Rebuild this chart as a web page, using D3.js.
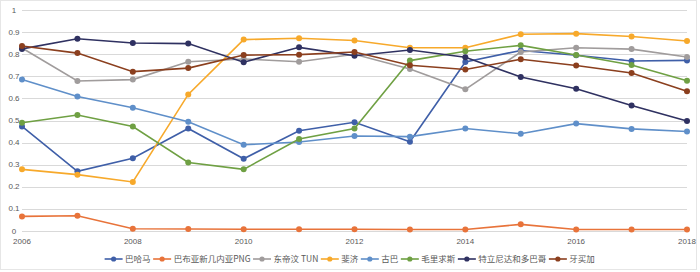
<!DOCTYPE html>
<html>
<head>
<meta charset="utf-8">
<script src="https://cdn.jsdelivr.net/npm/d3@7"></script>
<style>
  body { margin: 0; background: #fff; }
  text { font-family: "Noto Sans CJK SC", "Noto Sans", sans-serif; fill: #595959; }
  .tick-label { font-family: "Liberation Sans", "DejaVu Sans", sans-serif; }
</style>
</head>
<body>
<svg id="chart"></svg>
<script>
// data
const years = [2006, 2007, 2008, 2009, 2010, 2011, 2012, 2013, 2014, 2015, 2016, 2017, 2018];
const seriesNames = ['巴哈马', '巴布亚新几内亚PNG', '东帝汶 TUN', '斐济', '古巴', '毛里求斯', '特立尼达和多巴哥', '牙买加'];
const bahamas  = [0.473, 0.270, 0.329, 0.464, 0.327, 0.454, 0.492, 0.404, 0.765, 0.817, 0.795, 0.769, 0.772];
const png      = [0.066, 0.069, 0.010, 0.009, 0.008, 0.008, 0.008, 0.007, 0.007, 0.030, 0.007, 0.007, 0.007];
const timor    = [0.828, 0.679, 0.685, 0.766, 0.778, 0.766, 0.800, 0.733, 0.641, 0.810, 0.829, 0.823, 0.787];
const fiji     = [0.279, 0.255, 0.222, 0.618, 0.866, 0.872, 0.862, 0.829, 0.829, 0.890, 0.893, 0.880, 0.860];
const cuba     = [0.686, 0.609, 0.558, 0.494, 0.390, 0.403, 0.430, 0.427, 0.464, 0.440, 0.486, 0.462, 0.450];
const mauritius= [0.490, 0.525, 0.473, 0.310, 0.279, 0.416, 0.464, 0.771, 0.813, 0.840, 0.796, 0.751, 0.680];
const trinidad = [0.824, 0.870, 0.851, 0.848, 0.764, 0.831, 0.793, 0.819, 0.786, 0.697, 0.644, 0.568, 0.498];
const jamaica  = [0.837, 0.805, 0.721, 0.737, 0.796, 0.798, 0.810, 0.750, 0.731, 0.777, 0.749, 0.715, 0.632];
const xTicks = [2006, 2008, 2010, 2012, 2014, 2016, 2018];
const yTicks = [0, 0.1, 0.2, 0.3, 0.4, 0.5, 0.6, 0.7, 0.8, 0.9, 1];

const allValues = [bahamas, png, timor, fiji, cuba, mauritius, trinidad, jamaica];
const colors = ['#3F5FA8', '#E8733A', '#A09C9C', '#F7A92B', '#5F8FC9', '#6FA043', '#2F3161', '#8B3F1E'];
const series = seriesNames.map((name, i) => ({ name, color: colors[i], values: allValues[i] }));

const width = 700, height = 272;
const margin = {top: 10, right: 13, bottom: 41, left: 22};

const svg = d3.select('#chart')
    .attr('width', width)
    .attr('height', height);

svg.append('rect')
    .attr('x', 0.5).attr('y', 0.5)
    .attr('width', width - 4).attr('height', height - 3)
    .attr('fill', '#fff')
    .attr('stroke', '#e6e6e6');

const xScale = d3.scaleLinear()
    .domain([2006, 2018])
    .range([margin.left, width - margin.right]);

const yScale = d3.scaleLinear()
    .domain([0, 1])
    .range([height - margin.bottom, margin.top]);

// gridlines
svg.append('g')
    .selectAll('line')
    .data(yTicks)
  .join('line')
    .attr('x1', xScale(2006))
    .attr('x2', xScale(2018))
    .attr('y1', d => Math.round(yScale(d)) + 0.5)
    .attr('y2', d => Math.round(yScale(d)) + 0.5)
    .attr('stroke', '#d9d9d9')
    .attr('stroke-width', 1);

// y tick labels
svg.append('g')
    .selectAll('text')
    .data(yTicks)
  .join('text')
    .attr('class', 'tick-label')
    .attr('x', 14)
    .attr('y', d => yScale(d) + 2.5)
    .attr('text-anchor', 'middle')
    .attr('font-size', 8)
    .text(d => d);

// x tick labels
svg.append('g')
    .selectAll('text')
    .data(xTicks)
  .join('text')
    .attr('class', 'tick-label')
    .attr('x', d => xScale(d))
    .attr('y', yScale(0) + 13)
    .attr('text-anchor', 'middle')
    .attr('font-size', 8)
    .text(d => d);

const line = d3.line()
    .x((d, i) => xScale(years[i]))
    .y(d => yScale(d));

const groups = svg.append('g')
    .selectAll('g')
    .data(series)
  .join('g');

groups.append('path')
    .attr('d', d => line(d.values))
    .attr('fill', 'none')
    .attr('stroke', d => d.color)
    .attr('stroke-width', 1.6);

groups.selectAll('circle')
    .data(d => d.values.map(v => ({ v, color: d.color })))
  .join('circle')
    .attr('cx', (d, i) => xScale(years[i]))
    .attr('cy', d => yScale(d.v))
    .attr('r', 3)
    .attr('fill', d => d.color);

// legend
const legend = svg.append('g');
let lx = 0;
series.forEach(s => {
  const g = legend.append('g').attr('transform', `translate(${lx},0)`);
  g.append('line')
    .attr('x1', 0).attr('x2', 18)
    .attr('y1', 0).attr('y2', 0)
    .attr('stroke', s.color)
    .attr('stroke-width', 1.6);
  g.append('circle')
    .attr('cx', 9).attr('cy', 0).attr('r', 2.6)
    .attr('fill', s.color);
  const t = g.append('text')
    .attr('x', 20.5)
    .attr('y', 3)
    .attr('font-size', 8.5)
    .text(s.name);
  lx += 20.5 + t.node().getComputedTextLength() + 2.5;
});
legend.attr('transform', `translate(${(width - lx) / 2 + 1},259)`);
</script>
</body>
</html>
